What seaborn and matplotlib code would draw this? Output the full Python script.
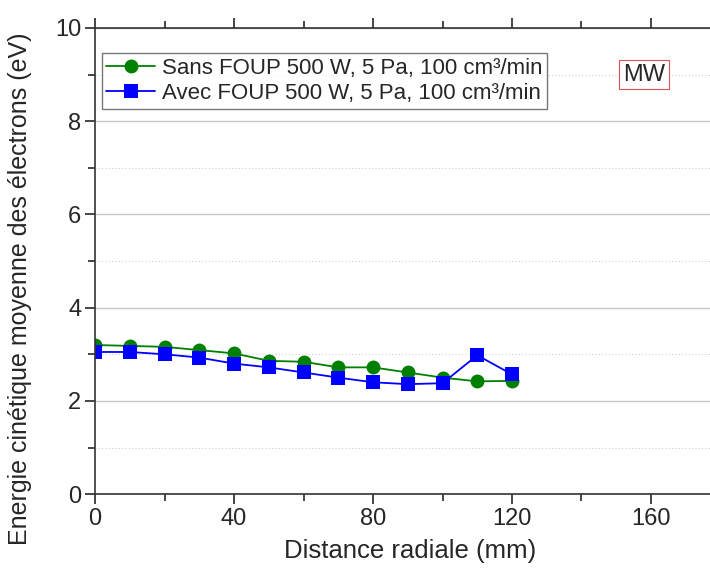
import numpy as np
import pandas as pd
import matplotlib
matplotlib.use("Agg")
import matplotlib.pyplot as plt
from matplotlib.ticker import MultipleLocator, FuncFormatter
import seaborn as sns

sns.set_style("ticks")
plt.rcParams["font.family"] = ["Liberation Sans", "DejaVu Sans"]

# ── data ─────────────────────────────────────────────────────────────────
distance = [0, 10, 20, 30, 40, 50, 60, 70, 80, 90, 100, 110, 120]
sans_foup = [3.20, 3.18, 3.16, 3.09, 3.02, 2.86, 2.84, 2.72, 2.72, 2.61, 2.50, 2.42, 2.43]
avec_foup = [3.05, 3.05, 3.00, 2.93, 2.80, 2.72, 2.61, 2.50, 2.40, 2.36, 2.38, 2.98, 2.57]
labels = ["Sans FOUP 500 W, 5 Pa, 100 cm³/min",
          "Avec FOUP 500 W, 5 Pa, 100 cm³/min"]

df = pd.concat([
    pd.DataFrame({"x": distance, "y": sans_foup, "serie": labels[0]}),
    pd.DataFrame({"x": distance, "y": avec_foup, "serie": labels[1]}),
])

fig = plt.figure(figsize=(7.1, 5.7), dpi=100)
ax = fig.add_axes([0.134, 0.133, 0.866, 0.818])

# grid: solid at majors, dotted at minors (horizontal only)
ax.yaxis.set_major_locator(MultipleLocator(2))
ax.yaxis.set_minor_locator(MultipleLocator(1))
ax.xaxis.set_major_locator(MultipleLocator(40))
ax.xaxis.set_minor_locator(MultipleLocator(20))
ax.grid(axis="y", which="major", color="#c8c8c8", lw=1.0)
ax.grid(axis="y", which="minor", color="#d0d0d0", lw=0.8, ls=(0, (1, 2)))
ax.set_axisbelow(True)

sns.lineplot(data=df, x="x", y="y", hue="serie", style="serie",
             palette=["#008000", "#0000ff"], markers=["o", "s"], dashes=False,
             markersize=10, markeredgewidth=0, lw=1.3, ax=ax, sort=False)

ax.set_xlim(0, 177)
ax.set_ylim(0, 10)
ax.set_xlabel("Distance radiale (mm)", fontsize=18.5)
ax.set_ylabel("Energie cinétique moyenne des électrons (eV)", fontsize=18)
ax.xaxis.set_label_coords(0.512, -0.097)
ax.yaxis.set_label_coords(-0.102, 0.44)
ax.tick_params(axis="both", which="major", labelsize=17, length=7, width=1.2,
               direction="out", top=True, pad=3)
ax.tick_params(axis="both", which="minor", length=5, width=1.2, direction="out", top=True)
ax.xaxis.set_major_formatter(FuncFormatter(lambda v, p: f"{v:g}"))
ax.yaxis.set_major_formatter(FuncFormatter(lambda v, p: f"{v:g}"))
for s in ["left", "bottom", "top"]:
    ax.spines[s].set_color("#333333")
    ax.spines[s].set_linewidth(1.2)
ax.spines["right"].set_visible(False)

leg = ax.legend(loc="upper left", bbox_to_anchor=(0.0, 0.96), fontsize=16,
                frameon=True, fancybox=False, edgecolor="#555555",
                handlelength=2.2, borderpad=0.2, labelspacing=0.2,
                handletextpad=0.3, borderaxespad=0.3)
leg.get_frame().set_linewidth(1.0)

ax.text(158, 9.0, "MW", fontsize=17, ha="center", va="center",
        bbox=dict(boxstyle="square,pad=0.15", fc="white", ec="#e05050", lw=0.8))

plt.savefig("out.png", dpi=100)
plt.close()
